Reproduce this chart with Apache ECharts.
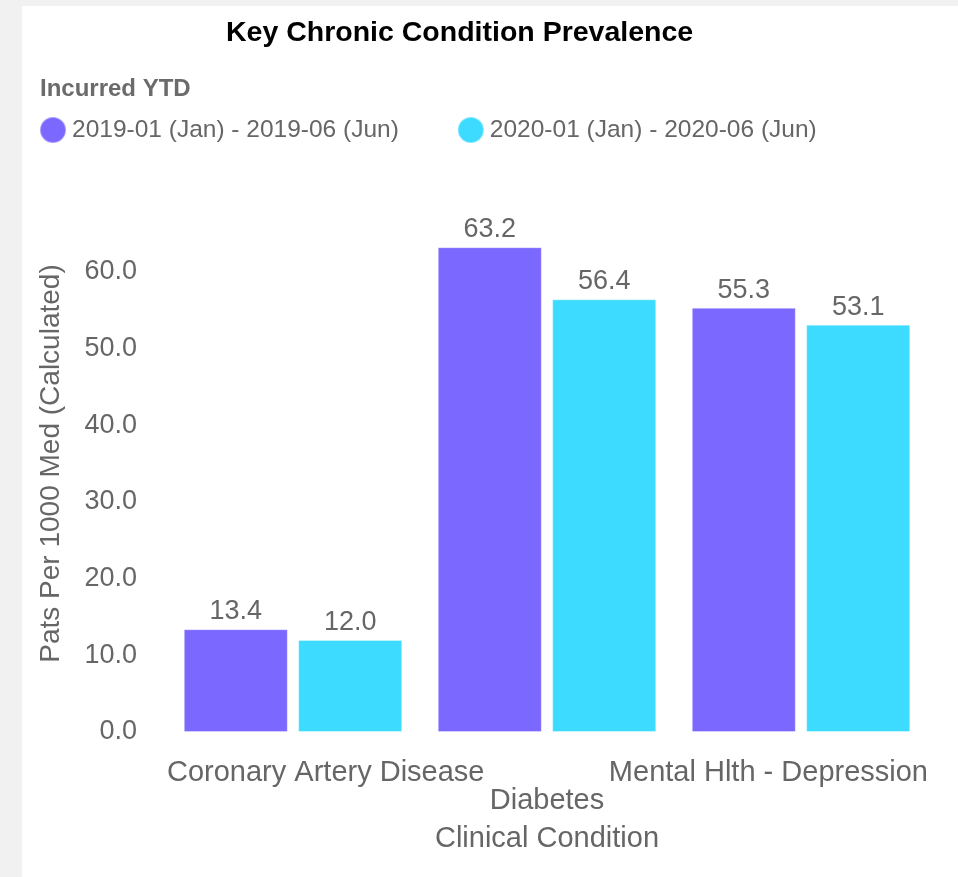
<!DOCTYPE html>
<html>
<head>
<meta charset="utf-8">
<script src="https://cdn.jsdelivr.net/npm/echarts@6/dist/echarts.min.js"></script>
<style>
  html, body { margin: 0; padding: 0; background: #f1f1f1; }
  #panel { position: absolute; left: 22px; top: 6px; width: 936px; height: 871px; background: #ffffff; }
  #chart { position: absolute; left: 0; top: 0; width: 958px; height: 877px; }
</style>
</head>
<body>
<div id="panel"></div>
<div id="chart"></div>
<script>
const titleText = 'Key Chronic Condition Prevalence';
const legendTitle = 'Incurred YTD';
const categories = ['Coronary Artery Disease', 'Diabetes', 'Mental Hlth - Depression'];
const seriesNames = ['2019-01 (Jan) - 2019-06 (Jun)', '2020-01 (Jan) - 2020-06 (Jun)'];
const values2019 = [13.4, 63.2, 55.3];
const values2020 = [12.0, 56.4, 53.1];
const yAxisName = 'Pats Per 1000 Med (Calculated)';
const xAxisName = 'Clinical Condition';
const yMin = 0, yMax = 70, yStep = 10;

const FONT = '"Liberation Sans", Arial, Helvetica, sans-serif';
const GRAY = '#666666';
const colors = ['#7b68ff', '#3cdbff'];

const chart = echarts.init(document.getElementById('chart'), null, { renderer: 'canvas' });

const labelCfg = {
  show: true,
  position: 'top',
  distance: 4,
  color: GRAY,
  fontSize: 27,
  fontFamily: FONT,
  formatter: p => Number(p.value).toFixed(1)
};

chart.setOption({
  backgroundColor: 'transparent',
  animation: false,
  color: colors,
  textStyle: { fontFamily: FONT },
  title: [
    { text: titleText, left: 226, top: 19, padding: 0,
      textStyle: { fontSize: 28.5, fontWeight: 'bold', color: '#000000', fontFamily: FONT } },
    { text: legendTitle, left: 40, top: 77, padding: 0,
      textStyle: { fontSize: 24, fontWeight: 'bold', color: '#6b6b6b', fontFamily: FONT } }
  ],
  legend: {
    left: 39, top: 116, padding: 0,
    icon: 'circle', itemWidth: 26, itemHeight: 26, itemGap: 58,
    textStyle: { fontSize: 24.5, color: GRAY, fontFamily: FONT, padding: [0, 0, 0, 1] },
    data: seriesNames
  },
  grid: { left: 166, right: 30, top: 195, bottom: 145, containLabel: false },
  xAxis: {
    type: 'category',
    data: categories,
    axisLine: { show: false },
    axisTick: { show: false },
    axisLabel: { show: false },
    name: xAxisName,
    nameLocation: 'middle',
    nameGap: 92,
    nameTextStyle: { fontSize: 29, color: GRAY, fontFamily: FONT }
  },
  yAxis: {
    type: 'value',
    min: yMin, max: yMax, interval: yStep,
    splitLine: { show: false },
    axisLine: { show: false },
    axisTick: { show: false },
    axisLabel: {
      showMaxLabel: false,
      margin: 29,
      fontSize: 27, color: GRAY, fontFamily: FONT,
      formatter: v => Number(v).toFixed(1)
    },
    name: yAxisName,
    nameLocation: 'middle',
    nameGap: 101,
    nameTextStyle: { fontSize: 28, color: GRAY, fontFamily: FONT }
  },
  series: [
    { name: seriesNames[0], type: 'bar', data: values2019,
      barGap: '10%', barCategoryGap: '14%',
      itemStyle: { color: colors[0], borderColor: 'rgba(255,255,255,0.35)', borderWidth: 1 },
      label: labelCfg },
    { name: seriesNames[1], type: 'bar', data: values2020,
      barGap: '10%', barCategoryGap: '14%',
      itemStyle: { color: colors[1], borderColor: 'rgba(255,255,255,0.35)', borderWidth: 1 },
      label: labelCfg }
  ]
});

// Category labels: first clamped to grid left, last to grid right, middle staggered below.
const centers = categories.map((c, i) => chart.convertToPixel({ xAxisIndex: 0 }, i));
const band = centers[1] - centers[0];
const axisY = chart.convertToPixel({ yAxisIndex: 0 }, yMin);
const n = categories.length;
const graphics = categories.map((c, i) => {
  let x = centers[i], align = 'center', y = axisY + 41;
  if (i === 0) { x = centers[0] - band / 2 + 1; align = 'left'; }
  else if (i === n - 1) { x = centers[n - 1] + band / 2; align = 'right'; }
  else if (i % 2 === 1) { y = axisY + 69; }
  return {
    type: 'text', x: x, y: y, silent: true,
    style: { text: c, align: align, verticalAlign: 'middle', fontSize: 29, fontFamily: FONT, fill: GRAY }
  };
});
chart.setOption({ graphic: graphics });
</script>
</body>
</html>
